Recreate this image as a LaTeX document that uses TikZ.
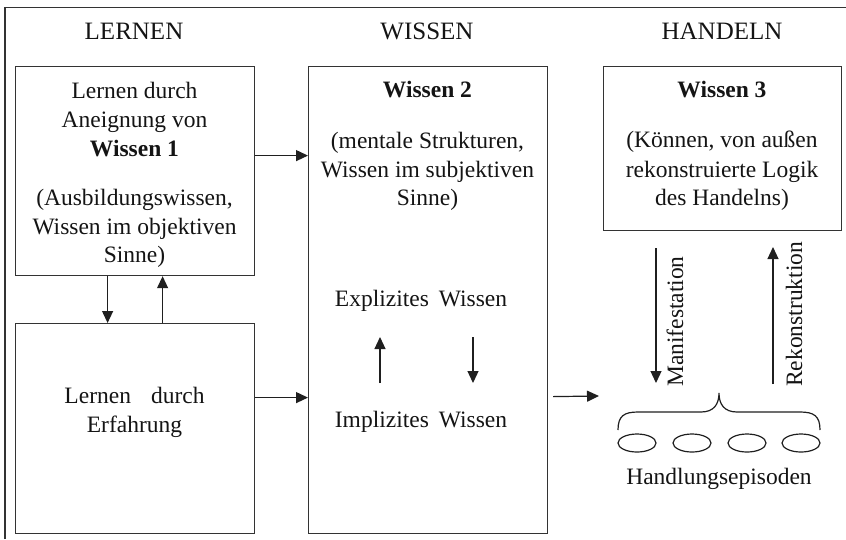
\documentclass[tikz,border=0pt]{standalone}
\usepackage{fontspec}
\setmainfont{Liberation Serif}
\usetikzlibrary{arrows.meta,shapes.geometric}

\begin{document}
\begin{tikzpicture}[x=1pt,y=-1pt,
  every node/.style={font=\fontsize{23.5}{29.5}\selectfont, text=black!92},
  txt/.style={anchor=base, inner sep=0pt},
  head/.style={txt, font=\fontsize{25}{30}\selectfont},
  frame/.style={draw=black!80, line width=1.2pt},
  box/.style={frame, rectangle, inner sep=0pt, anchor=north west},
  arr/.style={draw=black!88, line width=1.2pt, -{Triangle[length=12pt,width=11pt]}},
  episode/.style={draw=black!88, line width=1.2pt, ellipse, minimum width=38pt, minimum height=18pt, inner sep=0pt}
]
\useasboundingbox (0,0) rectangle (846,539);

% open outer frame (top and left edges)
\draw[frame] (5,539) -- (5,7.5) -- (846,7.5);

% column headings
\node[head] (hLernen)  at (134,39) {LERNEN};
\node[head] (hWissen)  at (427,39) {WISSEN};
\node[head] (hHandeln) at (722,39) {HANDELN};

% boxes
\node[box, minimum width=239pt, minimum height=209pt] (aneig) at (15,66) {};
\node[box, minimum width=239pt, minimum height=210pt] (erf)   at (15,323) {};
\node[box, minimum width=239pt, minimum height=467pt] (w2)    at (308,66) {};
\node[box, minimum width=238pt, minimum height=164pt] (w3)    at (603,66) {};

% learning by acquisition of knowledge 1
\node[txt] (a1) at (134.5,98)  {Lernen durch};
\node[txt] (a2) at (134.5,127.5) {Aneignung von};
\node[txt] (a3) at (134.5,156) {\bfseries Wissen 1};
\node[txt] (a4) at (134.5,205) {(Ausbildungswissen,};
\node[txt] (a5) at (134.5,234) {Wissen im objektiven};
\node[txt] (a6) at (134.5,262) {Sinne)};

% learning by experience
\node[txt] (e1) at (134.5,403) {Lernen\hskip 20pt durch};
\node[txt] (e2) at (134.5,432) {Erfahrung};

% knowledge 2
\node[txt] (b1) at (427.5,97)  {\bfseries Wissen 2};
\node[txt] (b2) at (427.5,148) {(mentale Strukturen,};
\node[txt] (b3) at (427.5,177) {Wissen im subjektiven};
\node[txt] (b4) at (427.5,205) {Sinne)};
\node[txt] (expl) at (421,306) {Explizites\hskip 10pt Wissen};
\node[txt] (impl) at (421,427) {Implizites\hskip 10pt Wissen};

% knowledge 3
\node[txt] (c1) at (722,97)  {\bfseries Wissen 3};
\node[txt] (c2) at (722,147) {(Können, von außen};
\node[txt] (c3) at (722,177) {rekonstruierte Logik};
\node[txt] (c4) at (722,205) {des Handelns)};

% action episodes
\node[episode] (ep1) at (637,443) {};
\node[episode] (ep2) at (692,443) {};
\node[episode] (ep3) at (747,443) {};
\node[episode] (ep4) at (801,443) {};
\node[txt] (epi) at (719,484) {Handlungsepisoden};

% brace over the episodes
\draw[draw=black!88, line width=1.2pt]
  (618,430) .. controls (618,416) and (624,412) .. (638,412)
  -- (701,412) .. controls (714,412) and (719,404) .. (719,393)
  .. controls (719,404) and (724,412) .. (737,412)
  -- (800,412) .. controls (814,412) and (820,416) .. (820,430);
\coordinate (braceIn) at (599,396);

% connectors between the columns
\draw[arr] ([yshift=15.5pt]aneig.east) coordinate (p1) -- (p1 -| w2.west);
\draw[arr] ([yshift=31pt]erf.east) coordinate (p2) -- (p2 -| w2.west);
\draw[arr] ([xshift=5pt,yshift=-96.5pt]w2.east) -- (braceIn);

% exchange between the two learning boxes
\draw[arr] ([xshift=-27.5pt]aneig.south) -- ([xshift=-27.5pt]erf.north);
\draw[arr] ([xshift=27.5pt]erf.north) -- ([xshift=27.5pt]aneig.south);

% implicit / explicit knowledge
\coordinate (upLow)   at (380,383);
\coordinate (upHigh)  at (380,337);
\coordinate (dnHigh)  at (473,337);
\coordinate (dnLow)   at (473,383);
\draw[arr] (upLow) -- (upHigh);
\draw[arr] (dnHigh) -- (dnLow);

% manifestation and reconstruction
\coordinate (manTop) at (656,248);
\coordinate (manBot) at (656,383);
\coordinate (recBot) at (773,384);
\coordinate (recTop) at (773,247);
\draw[arr] (manTop) -- (manBot);
\draw[arr] (recBot) -- (recTop);
\node[txt, anchor=base west, rotate=90] (lMan) at (683,387) {Manifestation};
\node[txt, anchor=base west, rotate=90] (lRec) at (802,387) {Rekonstruktion};
\end{tikzpicture}
\end{document}
